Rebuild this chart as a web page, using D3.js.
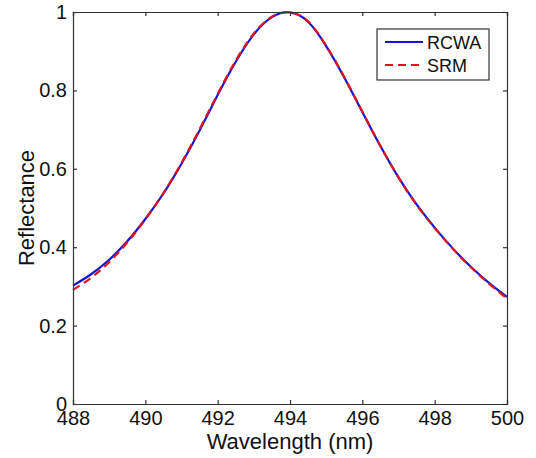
<!DOCTYPE html>
<html>
<head>
<meta charset="utf-8">
<script src="https://cdn.jsdelivr.net/npm/d3@7"></script>
<style>
  body { margin: 0; background: #fff; }
  svg { display: block; font-family: Arial, "Liberation Sans", sans-serif; }
</style>
</head>
<body>
<svg id="chart" width="536" height="458"></svg>
<script>
const wavelengths = [488.0, 488.5, 489.0, 489.5, 490.0, 490.5, 491.0, 491.5, 492.0, 492.5, 493.0, 493.5, 494.0,
  494.5, 495.0, 495.5, 496.0, 496.5, 497.0, 497.5, 498.0, 498.5, 499.0, 499.5, 500.0];
const rcwa = [0.302, 0.331, 0.368, 0.415, 0.472, 0.537, 0.613, 0.698, 0.788, 0.873, 0.943, 0.987, 0.999,
  0.975, 0.913, 0.833, 0.745, 0.658, 0.578, 0.509, 0.450, 0.397, 0.350, 0.309, 0.273];
const srm = [0.291, 0.322, 0.362, 0.412, 0.471, 0.538, 0.615, 0.701, 0.791, 0.876, 0.945, 0.988, 0.999,
  0.976, 0.914, 0.834, 0.746, 0.658, 0.578, 0.508, 0.449, 0.396, 0.349, 0.307, 0.269];
const xTicks = [488, 490, 492, 494, 496, 498, 500];
const yTicks = [0, 0.2, 0.4, 0.6, 0.8, 1];
const seriesNames = ["RCWA", "SRM"];

const plotLeft = 73, plotRight = 507, plotTop = 12, plotBottom = 404;
const svg = d3.select("#chart");

const x = d3.scaleLinear().domain([488, 500]).range([plotLeft, plotRight]);
const y = d3.scaleLinear().domain([0, 1]).range([plotBottom, plotTop]);

const axisColor = "#333";
const fontSize = 20;
const titleSize = 22;

function styleAxis(g) {
  g.selectAll("path").attr("stroke", axisColor).attr("stroke-width", 1.2);
  g.selectAll("line").attr("stroke", axisColor).attr("stroke-width", 1.2);
  g.selectAll("text").attr("fill", "#111").attr("font-size", fontSize).attr("font-family", "Arial, 'Liberation Sans', sans-serif");
}

// lines
const line = d3
  .line()
  .x((d) => x(d[0]))
  .y((d) => y(d[1]))
  .curve(d3.curveNatural);

svg
  .append("path")
  .datum(wavelengths.map((w, i) => [w, rcwa[i]]))
  .attr("fill", "none")
  .attr("stroke", "#1515d8")
  .attr("stroke-width", 2.2)
  .attr("d", line);

svg
  .append("path")
  .datum(wavelengths.map((w, i) => [w, srm[i]]))
  .attr("fill", "none")
  .attr("stroke", "#e0141e")
  .attr("stroke-width", 2.2)
  .attr("stroke-dasharray", "8,5")
  .attr("d", line);

// axes
svg
  .append("g")
  .attr("transform", `translate(0,${plotBottom})`)
  .call(d3.axisBottom(x).tickValues(xTicks).tickFormat(d3.format("d")).tickSize(-4).tickPadding(7))
  .call(styleAxis);

svg
  .append("g")
  .attr("transform", `translate(${plotLeft},0)`)
  .call(d3.axisLeft(y).tickValues(yTicks).tickFormat((d) => String(+d.toFixed(1))).tickSize(-4).tickPadding(6))
  .call(styleAxis);

svg
  .append("g")
  .attr("transform", `translate(0,${plotTop})`)
  .call(d3.axisTop(x).tickValues(xTicks).tickFormat("").tickSize(-4))
  .call(styleAxis);

svg
  .append("g")
  .attr("transform", `translate(${plotRight},0)`)
  .call(d3.axisRight(y).tickValues(yTicks).tickFormat("").tickSize(-4))
  .call(styleAxis);

// axis labels
svg
  .append("text")
  .attr("x", (plotLeft + plotRight) / 2)
  .attr("y", 449)
  .attr("text-anchor", "middle")
  .attr("font-size", titleSize)
  .attr("fill", "#111")
  .text("Wavelength (nm)");

svg
  .append("text")
  .attr("transform", `translate(34,${(plotTop + plotBottom) / 2}) rotate(-90)`)
  .attr("text-anchor", "middle")
  .attr("font-size", titleSize)
  .attr("fill", "#111")
  .text("Reflectance");

// legend
const legend = svg.append("g").attr("transform", "translate(377,29)");
legend
  .append("rect")
  .attr("width", 112)
  .attr("height", 51)
  .attr("fill", "#fff")
  .attr("stroke", axisColor)
  .attr("stroke-width", 1.2);

const legendStyles = [
  { color: "#1515d8", dash: null },
  { color: "#e0141e", dash: "8,5" },
];

seriesNames.forEach((name, i) => {
  const yy = 13 + i * 23;
  legend
    .append("line")
    .attr("x1", 8)
    .attr("x2", 46)
    .attr("y1", yy)
    .attr("y2", yy)
    .attr("stroke", legendStyles[i].color)
    .attr("stroke-width", 2.2)
    .attr("stroke-dasharray", legendStyles[i].dash);
  legend
    .append("text")
    .attr("x", 50)
    .attr("y", yy + 6.5)
    .attr("font-size", 18)
    .attr("fill", "#111")
    .text(name);
});
</script>
</body>
</html>
